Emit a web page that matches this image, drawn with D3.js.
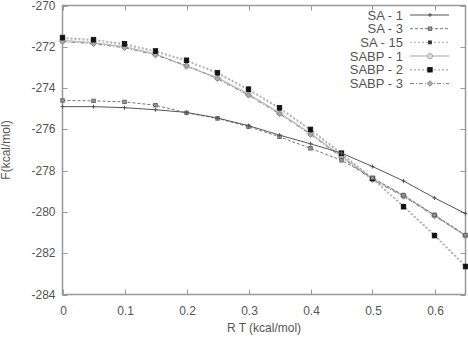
<!DOCTYPE html>
<html><head><meta charset="utf-8">
<script src="https://cdn.jsdelivr.net/npm/d3@7"></script>
<style>body{margin:0;background:#fff}svg{display:block}text{font-family:"Liberation Sans",Arial,sans-serif}</style>
</head><body><svg id="c" width="468" height="338"></svg>
<script>
const xValues = [0,0.05,0.1,0.15,0.2,0.25,0.3,0.35,0.4,0.45,0.5,0.55,0.6,0.65];
const seriesNames = ["SA - 1","SA - 3","SA - 15","SABP - 1","SABP - 2","SABP - 3"];
const sa1   = [-274.9,-274.9,-274.95,-275.05,-275.18,-275.45,-275.82,-276.28,-276.7,-277.15,-277.8,-278.5,-279.32,-280.08];
const sa3   = [-274.6,-274.62,-274.67,-274.83,-275.2,-275.47,-275.87,-276.36,-276.92,-277.5,-278.35,-279.2,-280.15,-281.12];
const sa15  = [-271.6,-271.7,-271.9,-272.25,-272.7,-273.3,-274.1,-275.0,-276.05,-277.2,-278.4,-279.7,-281.1,-282.6];
const sabp1 = [-271.7,-271.8,-272.0,-272.35,-272.95,-273.5,-274.3,-275.2,-276.2,-277.3,-278.4,-279.2,-280.15,-281.15];
const sabp2 = [-271.55,-271.65,-271.85,-272.2,-272.65,-273.25,-274.05,-274.95,-276.0,-277.15,-278.38,-279.75,-281.15,-282.65];
const sabp3 = [-271.75,-271.85,-272.05,-272.4,-272.9,-273.55,-274.35,-275.25,-276.25,-277.35,-278.45,-279.25,-280.2,-281.15];
const xTicks = [0,0.1,0.2,0.3,0.4,0.5,0.6];
const yTicks = [-270,-272,-274,-276,-278,-280,-282,-284];
const xLabel = "R T (kcal/mol)";
const yLabel = "F(kcal/mol)";

const allSeries = [sa1,sa3,sa15,sabp1,sabp2,sabp3];
const styles = [
  {stroke:"#555", dash:null, w:1, marker:"plus", mfill:"#555"},
  {stroke:"#777", dash:"3,2", w:1, marker:"square", msize:3.5, mfill:"#999", mstroke:"#555"},
  {stroke:"#bbb", dash:"2,2", w:1.2, marker:"square", msize:3, mfill:"#333", mstroke:"#333"},
  {stroke:"#c4c4c4", dash:null, w:1.5, marker:"circle", msize:2.6, mfill:"#ddd", mstroke:"#aaa"},
  {stroke:"#aaa", dash:"2,2", w:1.2, marker:"square", msize:4.5, mfill:"#111", mstroke:"#111"},
  {stroke:"#888", dash:"4,2,1,2", w:1, marker:"diamond", msize:2.8, mfill:"#aaa", mstroke:"#777"}
];

const svg = d3.select("#c");
const L=62.5,R=465.5,T=5.5,B=294.5;
const x = d3.scaleLinear().domain([0,0.65]).range([L,R]);
const y = d3.scaleLinear().domain([-284,-270]).range([B,T]);
const frame="#999";

const g = svg.append("g");
xTicks.forEach(t=>{
  const px=Math.round(x(t))+0.5;
  g.append("line").attr("x1",px).attr("x2",px).attr("y1",B).attr("y2",B-5).attr("stroke",frame);
  g.append("line").attr("x1",px).attr("x2",px).attr("y1",T).attr("y2",T+5).attr("stroke",frame);
  g.append("text").attr("x",x(t)+1).attr("y",B+20).attr("text-anchor","middle").attr("font-size",12).attr("fill","#555").text(t===0?"0":d3.format(".1f")(t));
});
yTicks.forEach(t=>{
  const py=Math.round(y(t))+0.5;
  g.append("line").attr("x1",L).attr("x2",L+5).attr("y1",py).attr("y2",py).attr("stroke",frame);
  g.append("line").attr("x1",R).attr("x2",R-5).attr("y1",py).attr("y2",py).attr("stroke",frame);
  g.append("text").attr("x",L-7).attr("y",y(t)+4).attr("text-anchor","end").attr("font-size",12).attr("fill","#555").text(t);
});
svg.append("rect").attr("x",L).attr("y",T).attr("width",R-L).attr("height",B-T).attr("fill","none").attr("stroke",frame).attr("stroke-width",1.5);

svg.append("text").attr("x",(L+R)/2).attr("y",332).attr("text-anchor","middle").attr("font-size",12).attr("fill","#555").text(xLabel);
svg.append("text").attr("transform",`translate(10,${(T+B)/2}) rotate(-90)`).attr("text-anchor","middle").attr("font-size",12).attr("fill","#555").text(yLabel);

function drawMarker(sel, st, cx, cy){
  const s=st.msize||3;
  if(st.marker==="plus"){
    sel.append("path").attr("d",`M${cx-2},${cy}H${cx+2}M${cx},${cy-2}V${cy+2}`).attr("stroke",st.mfill).attr("stroke-width",1);
  } else if(st.marker==="square"){
    sel.append("rect").attr("x",cx-s/2).attr("y",cy-s/2).attr("width",s).attr("height",s).attr("fill",st.mfill).attr("stroke",st.mstroke).attr("stroke-width",0.8);
  } else if(st.marker==="circle"){
    sel.append("circle").attr("cx",cx).attr("cy",cy).attr("r",s).attr("fill",st.mfill).attr("stroke",st.mstroke).attr("stroke-width",1);
  } else if(st.marker==="diamond"){
    sel.append("path").attr("d",`M${cx},${cy-s}L${cx+s},${cy}L${cx},${cy+s}L${cx-s},${cy}Z`).attr("fill",st.mfill).attr("stroke",st.mstroke).attr("stroke-width",0.8);
  }
}

const line = d3.line().x(d=>x(d[0])).y(d=>y(d[1]));
const order=[3,5,2,4,1,0];
order.forEach(i=>{
  const data = xValues.map((xv,k)=>[xv,allSeries[i][k]]);
  const st=styles[i];
  const gg=svg.append("g");
  gg.append("path").attr("d",line(data)).attr("fill","none").attr("stroke",st.stroke).attr("stroke-width",st.w).attr("stroke-dasharray",st.dash);
  data.forEach(d=>drawMarker(gg,st,x(d[0]),y(d[1])));
});

const lg=svg.append("g");
seriesNames.forEach((n,i)=>{
  const ly=15+i*13.7;
  const st=styles[i];
  lg.append("text").attr("x",403).attr("y",ly+4.5).attr("text-anchor","end").attr("font-size",13).attr("fill","#555").text(n);
  lg.append("line").attr("x1",410).attr("x2",449).attr("y1",ly).attr("y2",ly).attr("stroke",st.stroke).attr("stroke-width",st.w).attr("stroke-dasharray",st.dash);
  drawMarker(lg,st,430,ly);
});
</script></body></html>
